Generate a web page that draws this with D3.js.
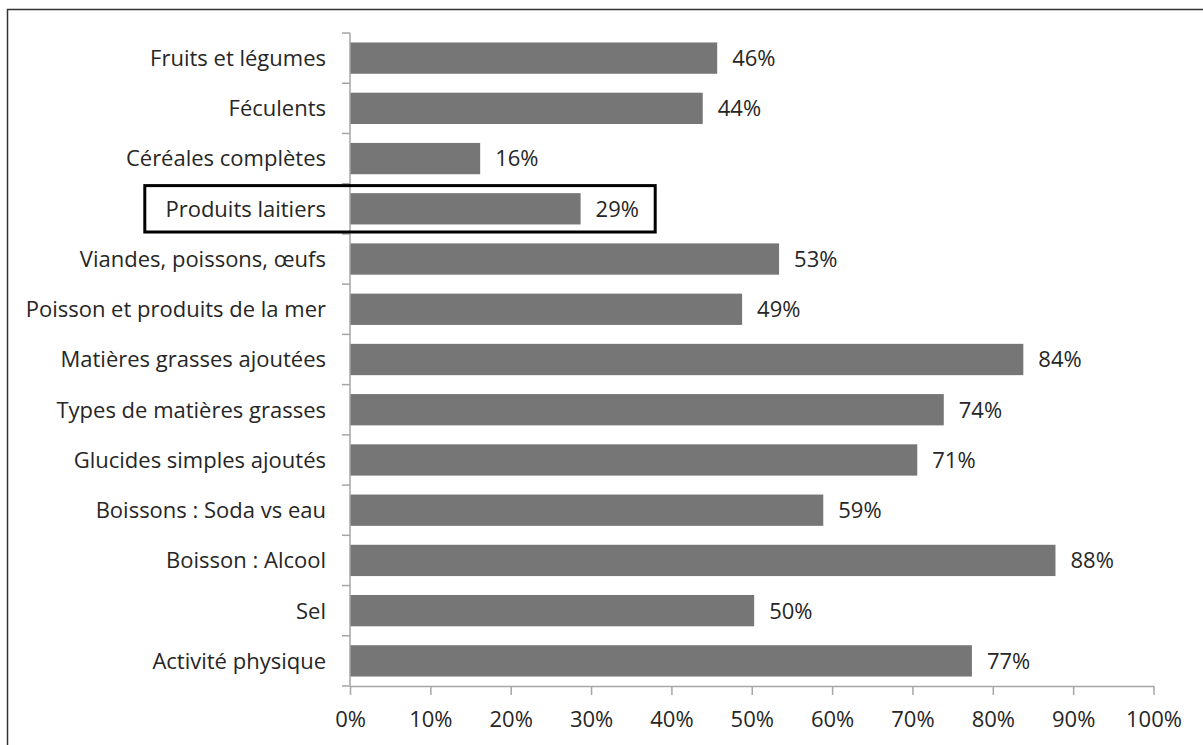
<!DOCTYPE html>
<html>
<head>
<meta charset="utf-8">
<script src="https://cdn.jsdelivr.net/npm/d3@7"></script>
<style>
  body { margin: 0; background: #fff; }
  svg text { font-family: "Open Sans", "Liberation Sans", sans-serif; fill: #262626; }
</style>
</head>
<body>
<svg id="chart" width="1203" height="745"></svg>
<script>
// categories, top to bottom
var categories = [
    "Fruits et légumes",
    "Féculents",
    "Céréales complètes",
    "Produits laitiers",
    "Viandes, poissons, œufs",
    "Poisson et produits de la mer",
    "Matières grasses ajoutées",
    "Types de matières grasses",
    "Glucides simples ajoutés",
    "Boissons : Soda vs eau",
    "Boisson : Alcool",
    "Sel",
    "Activité physique"
];
// percentages
var values = [45.7, 43.9, 16.2, 28.7, 53.4, 48.8, 83.8, 73.9, 70.6, 58.9, 87.8, 50.3, 77.4];
var xTicks = [0, 10, 20, 30, 40, 50, 60, 70, 80, 90, 100];
var highlighted = "Produits laitiers";

var data = categories.map(function(c, i) {
    return { cat: c, val: values[i] };
});

var svg = d3.select("#chart");
var fontSize = "22px";

// frame (top and left edges only)
svg.append("path")
    .attr("d", "M7.5,745 L7.5,9.5 L1203,9.5")
    .attr("fill", "none")
    .attr("stroke", "#333")
    .attr("stroke-width", 1.5);

var x = d3.scaleLinear().domain([0, 100]).range([350, 1153.5]);
var y = d3.scaleBand().domain(categories).range([33, 686])
    .paddingInner(0.377).paddingOuter(0.1885);

var axisColor = "#a6a6a6";

// bars
svg.append("g").selectAll("rect")
    .data(data)
    .enter()
    .append("rect")
    .attr("x", x(0))
    .attr("y", function(d) { return y(d.cat); })
    .attr("width", function(d) { return x(d.val) - x(0); })
    .attr("height", y.bandwidth())
    .attr("fill", "#767676");

// vertical category axis with ticks between bands
var yAxis = svg.append("g");
yAxis.append("line")
    .attr("x1", x(0)).attr("x2", x(0))
    .attr("y1", y.range()[0]).attr("y2", y.range()[1])
    .attr("stroke", axisColor).attr("stroke-width", 1.5);
yAxis.selectAll("line.tick")
    .data(d3.range(categories.length + 1))
    .enter()
    .append("line")
    .attr("class", "tick")
    .attr("x1", x(0) - 8).attr("x2", x(0))
    .attr("y1", function(i) { return y.range()[0] + i * y.step(); })
    .attr("y2", function(i) { return y.range()[0] + i * y.step(); })
    .attr("stroke", axisColor).attr("stroke-width", 1.5);

// category labels
svg.append("g").selectAll("text")
    .data(data)
    .enter()
    .append("text")
    .attr("x", 326)
    .attr("y", function(d) { return y(d.cat) + y.bandwidth() / 2; })
    .attr("dy", "0.36em")
    .attr("text-anchor", "end")
    .attr("font-size", fontSize)
    .text(function(d) { return d.cat; });

// value labels
svg.append("g").selectAll("text")
    .data(data)
    .enter()
    .append("text")
    .attr("x", function(d) { return x(d.val) + 15; })
    .attr("y", function(d) { return y(d.cat) + y.bandwidth() / 2; })
    .attr("dy", "0.36em")
    .attr("font-size", fontSize)
    .text(function(d) { return Math.round(d.val) + "%"; });

// horizontal percentage axis
var xAxis = svg.append("g")
    .attr("transform", "translate(0," + y.range()[1] + ")")
    .call(d3.axisBottom(x).tickValues(xTicks).tickSize(9).tickSizeOuter(0)
        .tickFormat(function(d) { return d + "%"; }));
xAxis.attr("font-family", null).attr("font-size", null);
xAxis.select(".domain").attr("stroke", axisColor).attr("stroke-width", 1.5);
xAxis.selectAll(".tick line").attr("stroke", axisColor).attr("stroke-width", 1.5);
xAxis.selectAll(".tick text")
    .attr("y", 33)
    .attr("dy", "0.36em")
    .attr("font-size", fontSize)
    .attr("fill", "#262626");

// highlight box round "Produits laitiers"
var hc = y(highlighted) + y.bandwidth() / 2;
svg.append("rect")
    .attr("x", 144.8)
    .attr("y", hc - 23.2)
    .attr("width", 655.2 - 144.8)
    .attr("height", 46.4)
    .attr("fill", "none")
    .attr("stroke", "#000")
    .attr("stroke-width", 3);
</script>
</body>
</html>
